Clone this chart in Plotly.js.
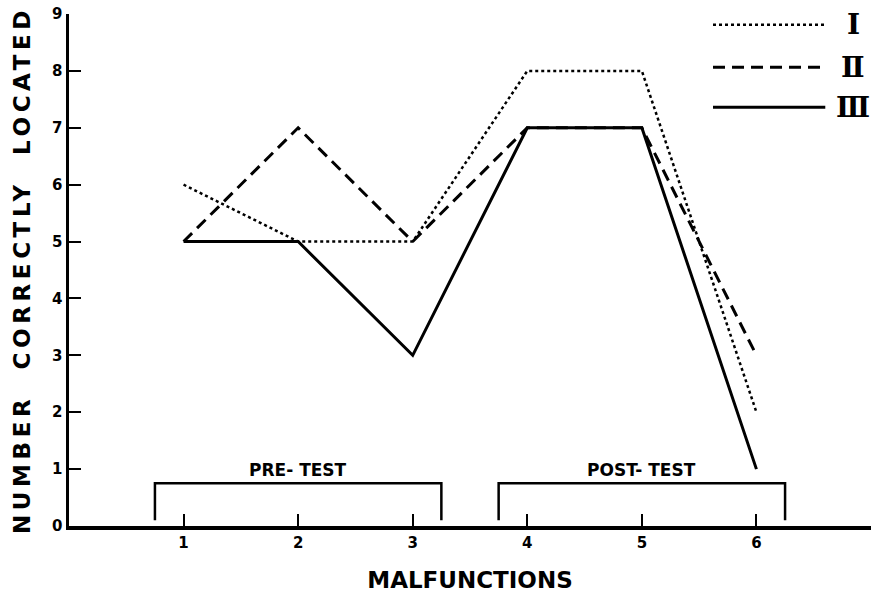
<!DOCTYPE html>
<html>
<head>
<meta charset="utf-8">
<script src="https://cdn.plot.ly/plotly-3.0.1.min.js"></script>
<style>html,body{margin:0;padding:0;background:#fff;}#chart{width:871px;height:598px;}</style>
</head>
<body>
<div id="chart"></div>
<script>
// Data
const malfunctions = [1, 2, 3, 4, 5, 6];
const groupI   = [6, 5, 5, 8, 8, 2];
const groupII  = [5, 7, 5, 7, 7, 3];
const groupIII = [5, 5, 3, 7, 7, 1];
const seriesNames = ["\u2160", "\u2161", "\u2162"];
const xTickLabels = ["1", "2", "3", "4", "5", "6"];
const yTickValues = [0, 1, 2, 3, 4, 5, 6, 7, 8, 9];
const phaseLabels = ["PRE- TEST", "POST- TEST"];
const phaseStart = [0.75, 3.75];
const phaseEnd = [3.25, 6.25];
const phaseMid = [2, 5];

const black = "#000";
const dashes = ["dot", "12px,7px", "solid"];
const widths = [2.5, 3, 3];
const seriesData = [groupI, groupII, groupIII];

const traces = seriesData.map((ys, i) => ({
  x: malfunctions, y: ys, type: "scatter", mode: "lines",
  name: seriesNames[i], showlegend: false,
  line: {color: black, width: widths[i], dash: dashes[i]}
}));

const shapes = [];
const annotations = [];
// bracket shapes for test phases
phaseStart.forEach((s, i) => {
  const e = phaseEnd[i];
  shapes.push({type: "path", xref: "x", yref: "y",
    path: `M${s},0.1 L${s},0.75 L${e},0.75 L${e},0.1`,
    line: {color: black, width: 2.5}});
  annotations.push({x: phaseMid[i], y: 0.98, xref: "x", yref: "y", text: phaseLabels[i],
    showarrow: false, font: {family: "DejaVu Sans", size: 17, color: black, weight: "bold"}});
});
// legend drawn as shapes + labels
const legY = [0.979, 0.896, 0.818];
seriesNames.forEach((n, i) => {
  shapes.push({type: "line", xref: "paper", yref: "paper", x0: 0.803, x1: 0.943, y0: legY[i], y1: legY[i],
    line: {color: black, width: widths[i], dash: dashes[i]}});
  annotations.push({x: 0.978, y: legY[i], xref: "paper", yref: "paper", text: n, showarrow: false,
    xanchor: "center", yanchor: "middle",
    font: {family: "DejaVu Serif", size: 28, color: black, weight: "bold"}});
});

const layout = {
  width: 871, height: 598,
  margin: {l: 69, r: 0, t: 14, b: 72},
  paper_bgcolor: "#fff", plot_bgcolor: "#fff",
  showlegend: false,
  xaxis: {
    range: [0, 7], tickvals: malfunctions, ticktext: xTickLabels,
    showline: true, linewidth: 4, linecolor: black, mirror: false,
    ticks: "inside", ticklen: 12, tickwidth: 2, tickcolor: black,
    showgrid: false, zeroline: false,
    tickfont: {family: "DejaVu Sans", size: 15, color: black, weight: "bold"},
    title: {text: "MALFUNCTIONS", standoff: 22,
      font: {family: "DejaVu Sans", size: 23, color: black, weight: "bold"}}
  },
  yaxis: {
    range: [0, 9], tickvals: yTickValues,
    showline: true, linewidth: 3.5, linecolor: black,
    ticks: "inside", ticklen: 12, tickwidth: 2, tickcolor: black,
    showgrid: false, zeroline: false,
    tickfont: {family: "DejaVu Sans", size: 15, color: black, weight: "bold"},
    title: {text: "NUMBER\u00a0\u00a0CORRECTLY\u00a0\u00a0LOCATED", standoff: 16,
      font: {family: "DejaVu Sans", size: 23, color: black, weight: "bold"}}
  },
  shapes: shapes,
  annotations: annotations
};

Plotly.newPlot("chart", traces, layout, {staticPlot: true, displayModeBar: false}).then(() => {
  const yt = document.querySelector("#chart .ytitle");
  if (yt) yt.style.letterSpacing = "4.6px";
});
</script>
</body>
</html>
